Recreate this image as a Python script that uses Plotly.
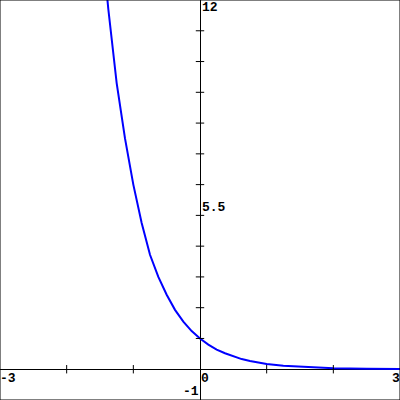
import plotly.graph_objects as go

# curve samples
x_vals = [-1.625, -1.5, -1.375, -1.25, -1.125, -1.0, -0.875, -0.75, -0.625, -0.5, -0.375,
          -0.25, -0.125, 0.0, 0.125, 0.25, 0.375, 0.5, 0.625, 0.75, 1.0, 1.25, 1.5,
          1.75, 2.0, 2.5, 3.0]
y_vals = [18.0, 14.5, 11.7, 9.3, 7.5, 6.0, 4.75, 3.72, 3.0, 2.42, 1.93,
          1.55, 1.24, 1.0, 0.8, 0.64, 0.52, 0.42, 0.33, 0.27, 0.17, 0.11, 0.075,
          0.047, 0.03, 0.013, 0.005]

x_ticks = [-2, -1, 1, 2]
y_ticks = [1, 2, 3, 4, 5, 6, 7, 8, 9, 10, 11]

x_min, x_max = -3, 3
y_min, y_max = -1, 12
y_mid = 5.5

fig = go.Figure()

fig.add_trace(go.Scatter(x=x_vals, y=y_vals, mode="lines",
                         line=dict(color="#0000ff", width=2), hoverinfo="skip"))

fig.add_trace(go.Scatter(x=x_ticks, y=[0] * len(x_ticks), mode="markers",
                         marker=dict(symbol="line-ns", size=6, color="black",
                                     line=dict(width=1, color="black")),
                         hoverinfo="skip"))
fig.add_trace(go.Scatter(x=[0] * len(y_ticks), y=y_ticks, mode="markers",
                         marker=dict(symbol="line-ew", size=6, color="black",
                                     line=dict(width=1, color="black")),
                         hoverinfo="skip"))

font = dict(family="Liberation Mono", size=13, color="black", weight="bold")
ann = [
    dict(x=0, y=y_max, text=str(y_max), xanchor="left", yanchor="top", xshift=1, yshift=1),
    dict(x=0, y=y_mid, text=str(y_mid), xanchor="left", yanchor="top", xshift=1, yshift=1),
    dict(x=0, y=y_min, text=str(y_min), xanchor="right", yanchor="bottom", xshift=0, yshift=0),
    dict(x=x_min, y=0, text=str(x_min), xanchor="left", yanchor="top", xshift=-1, yshift=-1),
    dict(x=0, y=0, text="0", xanchor="left", yanchor="top", xshift=0, yshift=-1),
    dict(x=x_max, y=0, text=str(x_max), xanchor="right", yanchor="top", xshift=1, yshift=-1),
]
for a in ann:
    fig.add_annotation(**a, showarrow=False, font=font, borderpad=0)

fig.add_shape(type="rect", xref="paper", yref="paper", x0=0, y0=0, x1=1, y1=1,
              line=dict(color="black", width=1))

fig.update_layout(
    width=400, height=400, margin=dict(l=0, r=0, t=0, b=0),
    paper_bgcolor="white", plot_bgcolor="white", showlegend=False,
    hovermode=False,
    xaxis=dict(range=[x_min, x_max], showgrid=False, zeroline=True, zerolinecolor="black",
               zerolinewidth=1, showticklabels=False, ticks="", fixedrange=True),
    yaxis=dict(range=[y_min, y_max], showgrid=False, zeroline=True, zerolinecolor="black",
               zerolinewidth=1, showticklabels=False, ticks="", fixedrange=True),
)

fig.write_html("out.html", config={"displayModeBar": False},
               post_script="document.body.style.margin='0';document.body.style.overflow='hidden';")
